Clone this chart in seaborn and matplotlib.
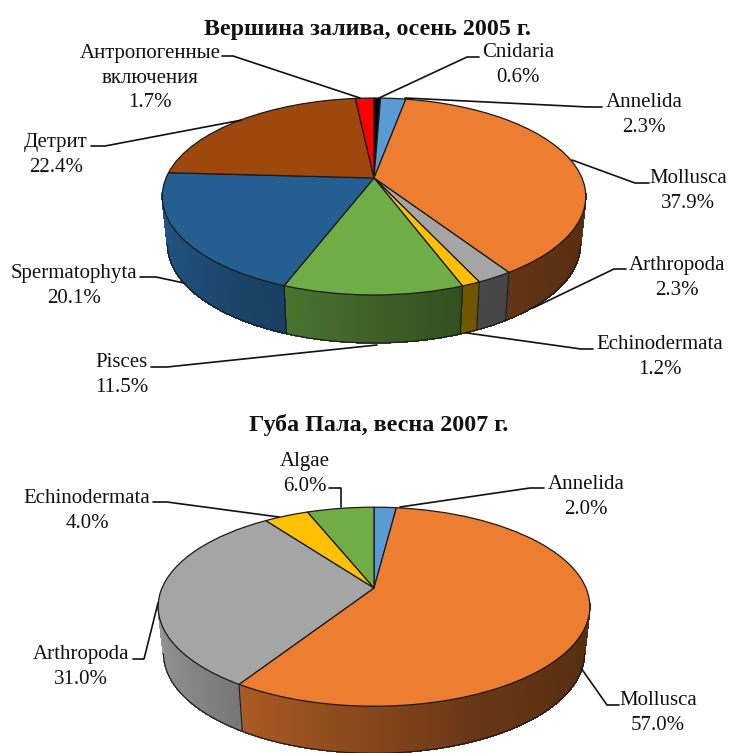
import numpy as np
import matplotlib
matplotlib.use("Agg")
import matplotlib.pyplot as plt
import matplotlib.transforms as mtransforms
import seaborn as sns

# --- data ---
names_2005 = ["Cnidaria", "Annelida", "Mollusca", "Arthropoda", "Echinodermata",
              "Pisces", "Spermatophyta", "Детрит", "Антропогенные\nвключения"]
values_2005 = [0.6, 2.3, 37.9, 2.3, 1.2, 11.5, 20.1, 22.4, 1.7]
names_2007 = ["Annelida", "Mollusca", "Arthropoda", "Echinodermata", "Algae"]
values_2007 = [2.0, 57.0, 31.0, 4.0, 6.0]

colors_2005 = ["#050505", "#5B9BD5", "#ED7D31", "#A5A5A5", "#FFC000",
               "#70AD47", "#255E91", "#9E480E", "#FF0000"]
colors_2007 = ["#5B9BD5", "#ED7D31", "#A5A5A5", "#FFC000", "#70AD47"]

# label centres and leader lines, in pixels of the picture
label_xy_2005 = [(518, 65), (644, 115), (688, 191), (677, 278), (660, 357),
                 (122, 375), (74, 286), (56, 155), (150, 78)]
leaders_2005 = [[(479, 57), (467, 57), (379, 98)],
                [(602, 107), (588, 107), (405, 98)],
                [(649, 183), (635, 183), (572, 160)],
                [(626, 269), (614, 269), (533, 308)],
                [(593, 349), (581, 349), (467, 333)],
                [(151, 367), (167, 367), (377, 345)],
                [(140, 277), (156, 277), (184, 283)],
                [(91, 146), (105, 146), (242, 120)],
                [(222, 56), (233, 56), (360, 98)]]
label_xy_2007 = [(586, 497), (658, 713), (81, 667), (87, 511), (305, 474)]
leaders_2007 = [[(544, 488), (530, 488), (400, 507)],
                [(619, 705), (607, 705), (581, 668)],
                [(133, 659), (144, 659), (158, 603)],
                [(153, 502), (167, 502), (279, 517)],
                [(329, 488), (341, 488), (341, 507)]]

sns.set_theme(style="white")
plt.rcParams["font.family"] = ["Liberation Serif", "DejaVu Serif"]

TILT = 0.188
TAPER = 0.975
# how much a side wall is darkened, from the left to the right of the pie
shade_u = [-1.0, -0.6, 0.0, 0.4, 1.0]
shade_f = [0.9, 0.74, 0.56, 0.44, 0.36]


class Tilted(mtransforms.Transform):
    """Unit pie -> picture pixels, seen in perspective."""
    input_dims = 2
    output_dims = 2

    def __init__(self, cx, cy, r, h):
        super().__init__()
        self.cx, self.cy, self.r, self.h = cx, cy, r, h

    def transform_non_affine(self, values):
        values = np.asarray(values)
        s = 1 / (1 + TILT * values[:, 1])
        return np.column_stack([self.cx + self.r * values[:, 0] * s,
                                self.cy - self.h * values[:, 1] * s])


def draw_pie(ax, values, colors, names, label_xy, leaders, cx, cy, r, h, depth):
    tilted = Tilted(cx, cy, r, h)
    palette = sns.color_palette(colors)
    edges = np.cumsum([0] + list(values)) / sum(values) * 2 * np.pi

    def rim(theta):
        u, w = np.sin(theta), np.cos(theta)
        return tilted.transform_non_affine(np.column_stack([u, w]))

    def low_rim(theta):
        p = rim(theta)
        return np.column_stack([cx + (p[:, 0] - cx) * TAPER, p[:, 1] + depth])

    # side wall, in thin strips so that it can fade
    for i, col in enumerate(palette):
        n = max(int(np.degrees(edges[i + 1] - edges[i])), 1)
        th = np.linspace(edges[i], edges[i + 1], n + 1)
        for a, b in zip(th[:-1], th[1:]):
            if np.cos((a + b) / 2) > -TILT + 0.03:
                continue
            top, low = rim(np.array([a, b])), low_rim(np.array([a, b]))
            f = np.interp(np.sin((a + b) / 2), shade_u, shade_f)
            shade = tuple(np.array(col) * f)
            ax.fill([top[0, 0], top[1, 0], low[1, 0], low[0, 0]],
                    [top[0, 1], top[1, 1], low[1, 1], low[0, 1]],
                    color=shade, lw=0.5, antialiased=False, zorder=1)

    # outline of the wall
    th = np.linspace(0, 2 * np.pi, 721)
    th = th[np.cos(th) < -TILT]
    low = low_rim(th)
    ax.plot(low[:, 0], low[:, 1], color="#1a1a1a", lw=0.8, zorder=2)
    for a in edges:
        if np.cos(a) < -TILT:
            p, q = rim(np.array([a]))[0], low_rim(np.array([a]))[0]
            ax.plot([p[0], q[0]], [p[1], q[1]], color="#1a1a1a", lw=0.8, zorder=2)

    # top face
    wedges, _ = ax.pie(values, colors=palette, startangle=90, counterclock=False,
                       wedgeprops={"edgecolor": "#1a1a1a", "linewidth": 0.9})
    for w in wedges:
        w.set_transform(tilted + ax.transData)
        w.set_zorder(3)

    for name, val, xy, line in zip(names, values, label_xy, leaders):
        ax.text(xy[0], xy[1], f"{name}\n{val:.1f}%", ha="center", va="center",
                fontsize=15, color="#111111", linespacing=1.36, zorder=5)
        xs, ys = zip(*line)
        ax.plot(xs, ys, color="#111111", lw=1.2, zorder=4)


fig = plt.figure(figsize=(7.29, 7.53), dpi=100)
ax = fig.add_axes([0, 0, 1, 1])

draw_pie(ax, values_2005, colors_2005, names_2005, label_xy_2005, leaders_2005,
         cx=374, cy=178, r=208, h=95, depth=48)
draw_pie(ax, values_2007, colors_2007, names_2007, label_xy_2007, leaders_2007,
         cx=374, cy=588, r=212, h=96, depth=47)

ax.text(367, 29, "Вершина залива, осень 2005 г.", ha="center", va="center",
        fontsize=17.3, fontweight="bold", color="#111111")
ax.text(379, 425, "Губа Пала, весна 2007 г.", ha="center", va="center",
        fontsize=17.3, fontweight="bold", color="#111111")

ax.set_aspect("auto")
ax.set_xlim(0, 729)
ax.set_ylim(753, 0)
ax.axis("off")

plt.savefig("out.png", dpi=100)
plt.close()
